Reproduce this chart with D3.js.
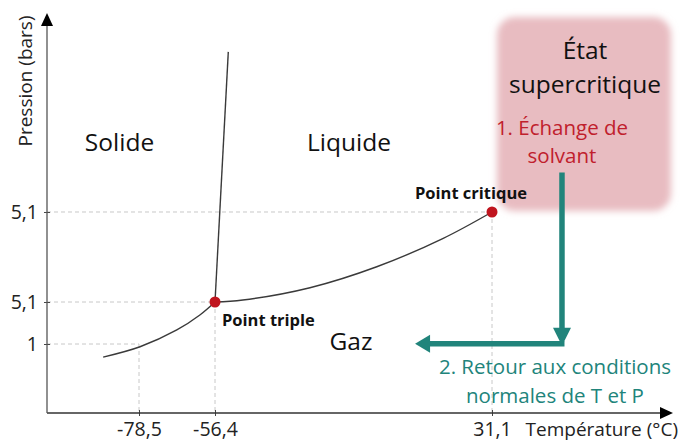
<!DOCTYPE html>
<html>
<head>
<meta charset="utf-8">
<script src="https://cdn.jsdelivr.net/npm/d3@7"></script>
<style>
  html, body { margin: 0; padding: 0; background: #fff; }
  svg { display: block; font-family: "Open Sans", sans-serif; }
</style>
</head>
<body>
<svg id="chart" width="681" height="441"></svg>
<script>
// ---------- data ----------
const tempTicks = [-78.5, -56.4, 31.1];
const tempTickLabels = ["-78,5", "-56,4", "31,1"];
const pressTicks = [1, 5.1, 73.8];
const pressTickLabels = ["1", "5,1", "5,1"];

// phase boundaries (T in °C, P in bar)
const sublimationT = [-88.9, -78.2, -67.5, -60.8, -56.4];
const sublimationP = [0.81, 0.96, 2.37, 3.83, 5.1];
const vaporT = [-56.4, -47.6, -26.4, -5.3, 15.7, 31.1];
const vaporP = [5.1, 6.6, 16.0, 32.0, 53.7, 73.8];
const fusionT = [-56.4, -52.2];
const fusionP = [5.1, 196];

const specialNames = ["Point triple", "Point critique"];
const specialT = [-56.4, 31.1];
const specialP = [5.1, 73.8];

// supercritical-drying path (annotation) in T/P units
const pathT = [53.1, 53.1, 6.8];
const pathP = [104, 1.03, 1.03];

// ---------- layout ----------
const svg = d3.select("#chart");
const X0 = 47, X1 = 673, Y0 = 413, Y1 = 13;

const x = d3.scaleLinear()
  .domain([-105.2, -78.5, -56.4, 31.1, 88])
  .range([X0, 139, 215, 492, X1]);
const y = d3.scaleLinear()
  .domain([0, 1, 5.1, 225.7])
  .range([Y0, 344, 302, Y1]);

const teal = "#21847b";
const red = "#c0141e";

// defs
const defs = svg.append("defs");
defs.append("filter").attr("id", "soft")
  .attr("x", "-20%").attr("y", "-20%").attr("width", "140%").attr("height", "140%")
  .append("feGaussianBlur").attr("stdDeviation", 3.5);

// supercritical box
svg.append("rect")
  .attr("x", x(31.1) + 5).attr("y", 17)
  .attr("width", 174).attr("height", 194)
  .attr("rx", 18)
  .attr("fill", "#e8bcc1")
  .attr("filter", "url(#soft)");

// gridlines (dashed guides)
const grid = svg.append("g").attr("stroke", "#c8c8c8").attr("stroke-dasharray", "4,3").attr("stroke-width", 1);
pressTicks.forEach((p, i) => {
  const t = tempTicks[i];
  grid.append("line").attr("x1", X0).attr("x2", x(t)).attr("y1", y(p)).attr("y2", y(p));
});
tempTicks.forEach((t, i) => {
  const p = pressTicks[i];
  grid.append("line").attr("x1", x(t)).attr("x2", x(t)).attr("y1", y(p)).attr("y2", Y0);
});

// axes
const xAxis = d3.axisBottom(x).tickValues(tempTicks)
  .tickFormat((d, i) => tempTickLabels[i]).tickSize(3).tickSizeOuter(0);
const gx = svg.append("g").attr("transform", `translate(0,${Y0})`).call(xAxis);
gx.select(".domain").remove();
gx.selectAll(".tick line").attr("y1", -3).attr("y2", 3).attr("stroke", "#444");
gx.selectAll(".tick text").attr("font-size", 19.5).attr("font-family", "Open Sans")
  .attr("fill", "#222").attr("y", 9).attr("dy", "0.71em");

const yAxis = d3.axisLeft(y).tickValues(pressTicks)
  .tickFormat((d, i) => pressTickLabels[i]).tickSize(3).tickSizeOuter(0);
const gy = svg.append("g").attr("transform", `translate(${X0},0)`).call(yAxis);
gy.select(".domain").remove();
gy.selectAll(".tick line").attr("x1", -3).attr("x2", 3).attr("stroke", "#444");
gy.selectAll(".tick text").attr("font-size", 19.5).attr("font-family", "Open Sans")
  .attr("fill", "#222").attr("x", -9);

// axis lines with arrowheads
svg.append("line").attr("x1", X0).attr("x2", X1 - 10).attr("y1", Y0).attr("y2", Y0)
  .attr("stroke", "#333").attr("stroke-width", 1.3);
svg.append("path").attr("d", `M${X1},${Y0} L${X1 - 13},${Y0 - 6} L${X1 - 13},${Y0 + 6} Z`).attr("fill", "#000");
svg.append("line").attr("x1", X0).attr("x2", X0).attr("y1", Y0).attr("y2", Y1 + 10)
  .attr("stroke", "#555").attr("stroke-width", 1.3);
svg.append("path").attr("d", `M${X0},${Y1} L${X0 - 6},${Y1 + 13} L${X0 + 6},${Y1 + 13} Z`).attr("fill", "#000");

// axis titles
svg.append("text").attr("x", 678).attr("y", 436).attr("text-anchor", "end")
  .attr("font-size", 19).attr("fill", "#222").text("Température (°C)");
svg.append("text").attr("transform", "translate(32,81) rotate(-90)").attr("text-anchor", "middle")
  .attr("font-size", 19).attr("fill", "#222").text("Pression (bars)");

// phase boundary curves
const line = d3.line().x(d => x(d[0])).y(d => y(d[1])).curve(d3.curveCatmullRom);
const curves = [
  d3.zip(sublimationT, sublimationP),
  d3.zip(vaporT, vaporP),
  d3.zip(fusionT, fusionP)
];
svg.append("g").selectAll("path").data(curves).join("path")
  .attr("d", line).attr("fill", "none").attr("stroke", "#3a3a3a").attr("stroke-width", 1.4);

// special points
svg.append("g").selectAll("circle").data(specialT).join("circle")
  .attr("cx", d => x(d)).attr("cy", (d, i) => y(specialP[i])).attr("r", 5.5).attr("fill", red);

svg.append("text").attr("x", x(specialT[0]) + 7).attr("y", y(specialP[0]) + 24)
  .attr("font-size", 16.5).attr("font-weight", "bold").attr("fill", "#111").text(specialNames[0]);
svg.append("text").attr("x", x(specialT[1]) - 21).attr("y", y(specialP[1]) - 13)
  .attr("text-anchor", "middle")
  .attr("font-size", 16.5).attr("font-weight", "bold").attr("fill", "#111").text(specialNames[1]);

// region labels
const regions = svg.append("g").attr("font-size", 24.5).attr("fill", "#111");
regions.append("text").attr("x", 119.5).attr("y", 151).attr("text-anchor", "middle").text("Solide");
regions.append("text").attr("x", 349).attr("y", 151).attr("text-anchor", "middle").text("Liquide");
regions.append("text").attr("x", 351).attr("y", 350).attr("text-anchor", "middle").text("Gaz");

const sc = svg.append("g").attr("font-size", 24.5).attr("fill", "#111").attr("text-anchor", "middle");
sc.append("text").attr("x", 585).attr("y", 59).text("État");
sc.append("text").attr("x", 585).attr("y", 93).text("supercritique");

const st = svg.append("g").attr("font-size", 20.5).attr("fill", "#c0202c").attr("text-anchor", "middle");
st.append("text").attr("x", 562).attr("y", 135).text("1. Échange de");
st.append("text").attr("x", 562).attr("y", 163).text("solvant");

// drying path arrow
const px = pathT.map(x), py = pathP.map(y);
svg.append("line").attr("x1", px[0]).attr("x2", px[1]).attr("y1", py[0]).attr("y2", py[1] - 15)
  .attr("stroke", teal).attr("stroke-width", 5.5);
svg.append("path").attr("d", `M${px[1]},${py[1] + 2} L${px[1] - 9},${py[1] - 16} L${px[1] + 9},${py[1] - 16} Z`).attr("fill", teal);
svg.append("line").attr("x1", px[1] + 2.5).attr("x2", px[2] + 14).attr("y1", py[1]).attr("y2", py[2])
  .attr("stroke", teal).attr("stroke-width", 5.5);
svg.append("path").attr("d", `M${px[2]},${py[2]} L${px[2] + 15},${py[2] - 9} L${px[2] + 15},${py[2] + 9} Z`).attr("fill", teal);

const rt = svg.append("g").attr("font-size", 20.5).attr("fill", teal).attr("text-anchor", "middle");
rt.append("text").attr("x", 555).attr("y", 374).text("2. Retour aux conditions");
rt.append("text").attr("x", 555).attr("y", 403).text("normales de T et P");
</script>
</body>
</html>
